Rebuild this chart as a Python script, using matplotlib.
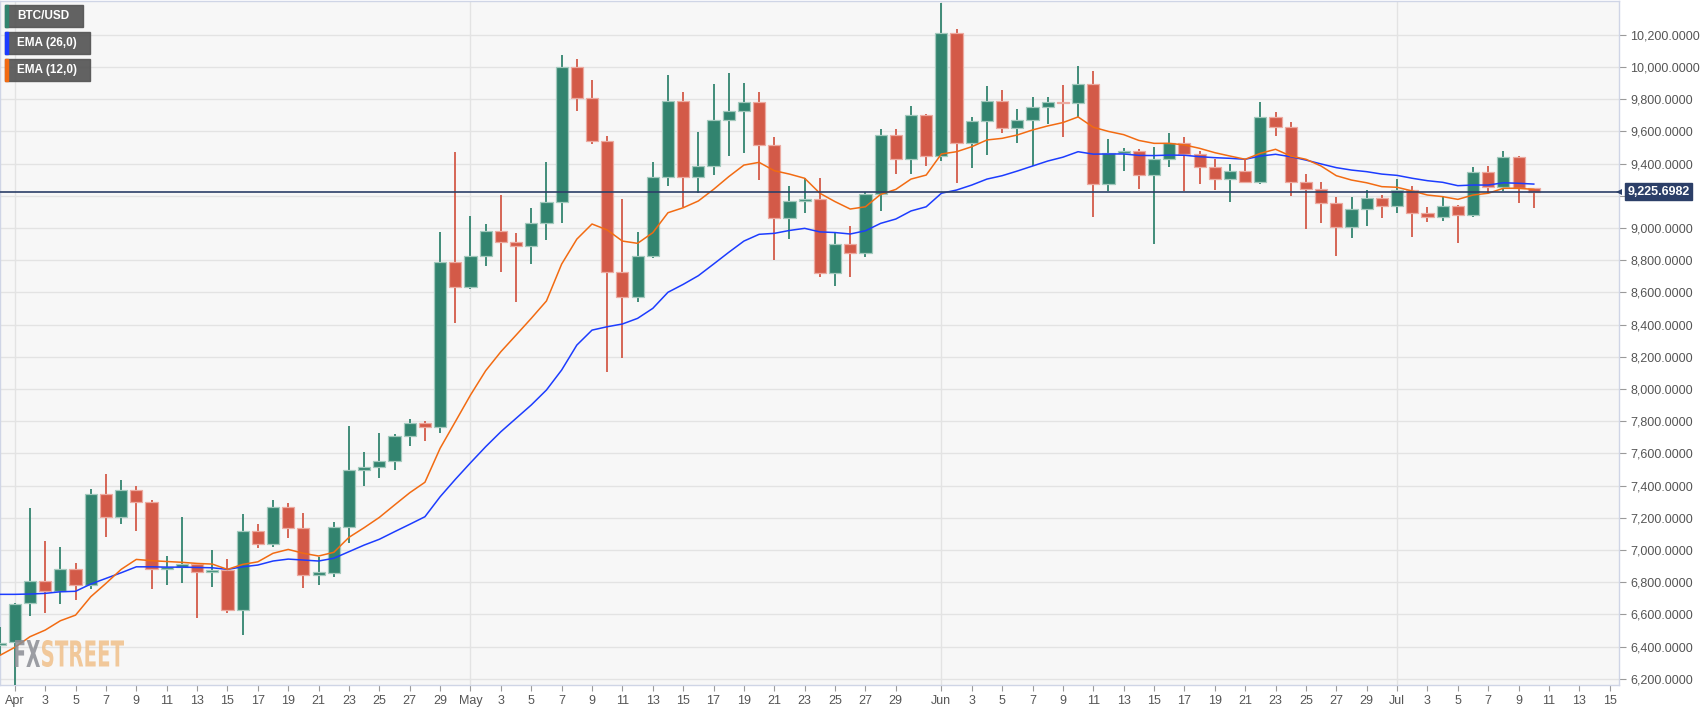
import matplotlib
matplotlib.use("Agg")
import matplotlib.pyplot as plt
import numpy as np
import pandas as pd
from matplotlib.patches import Rectangle, PathPatch
from matplotlib.textpath import TextPath
from matplotlib.font_manager import FontProperties
from matplotlib.transforms import Affine2D, blended_transform_factory

# daily BTC/USD candles, 2020-03-31 .. 2020-07-10
first_day = "2020-03-31"
opens = [6410, 6431, 6669, 6808, 6747, 6880, 6783, 7348, 7207, 7373, 7300, 6880, 6896, 6911, 6865, 6878,
         6627, 7118, 7037, 7265, 7135, 6845, 6860, 7141, 7497, 7514, 7553, 7708, 7791, 7766, 8791,
         8632, 8828, 8983, 8913, 8888, 9029, 9160, 10002, 9806, 9542, 8729, 8573, 8826, 9319, 9791,
         9315, 9385, 9671, 9727, 9783, 9516, 9060, 9170, 9180, 8719, 8901, 8847, 9211, 9578, 9427, 9702,
         9449, 10209, 9526, 9666, 9791, 9619, 9671, 9750, 9781, 9775, 9894, 9271, 9464, 9478, 9329,
         9429, 9526, 9458, 9377, 9304, 9356, 9288, 9688, 9625, 9288, 9242, 9157, 9008, 9116, 9188,
         9137, 9236, 9091, 9066, 9139, 9081, 9346, 9257, 9439, 9247]
highs = [6520, 6670, 7260, 7056, 7017, 6917, 7377, 7470, 7435, 7395, 7310, 6963, 7203, 6920, 7000, 6942,
         7224, 7160, 7311, 7290, 7228, 6959, 7172, 7770, 7611, 7725, 7718, 7812, 7800, 8977, 9474,
         9075, 9023, 9205, 8971, 9122, 9412, 10075, 10048, 9919, 9570, 9178, 8977, 9412, 9950, 9843,
         9598, 9894, 9961, 9899, 9843, 9567, 9263, 9313, 9309, 8977, 9014, 9222, 9613, 9613, 9758, 9710,
         10400, 10234, 9691, 9884, 9857, 9737, 9816, 9812, 9888, 10008, 9977, 9551, 9495, 9490, 9501,
         9588, 9563, 9480, 9427, 9396, 9422, 9785, 9722, 9660, 9335, 9288, 9191, 9191, 9236, 9205,
         9303, 9263, 9129, 9199, 9145, 9377, 9385, 9478, 9447, 9250]
lows = [6350, 6150, 6590, 6611, 6665, 6690, 6760, 7079, 7160, 7118, 6756, 6783, 6797, 6576, 6772, 6611,
        6472, 7010, 7020, 7073, 6762, 6783, 6834, 7042, 7398, 7445, 7497, 7646, 7677, 7725, 8412,
        8620, 8766, 8729, 8539, 8775, 8925, 9033, 9729, 9520, 8108, 8191, 8539, 8812, 9263, 9132,
        9215, 9329, 9447, 9464, 9298, 8801, 8930, 9091, 8694, 8640, 8694, 8818, 9108, 9335, 9335, 9385,
        9418, 9281, 9371, 9453, 9592, 9530, 9387, 9646, 9567, 9691, 9070, 9232, 9354, 9240, 8899,
        9381, 9232, 9271, 9236, 9160, 9278, 9271, 9573, 9199, 8992, 9029, 8826, 8936, 9014, 9060,
        9091, 8942, 9039, 9045, 8909, 9066, 9216, 9232, 9157, 9122]
closes = [6424, 6665, 6808, 6747, 6880, 6783, 7348, 7207, 7373, 7300, 6880, 6895, 6911, 6865, 6878, 6627,
          7118, 7037, 7265, 7135, 6845, 6862, 7141, 7497, 7514, 7553, 7708, 7791, 7766, 8791, 8632,
          8828, 8983, 8913, 8888, 9029, 9160, 10002, 9806, 9542, 8729, 8573, 8826, 9319, 9791, 9315,
          9385, 9671, 9727, 9783, 9516, 9060, 9170, 9180, 8719, 8901, 8847, 9211, 9578, 9427, 9702, 9449,
          10209, 9526, 9666, 9791, 9619, 9671, 9750, 9781, 9775, 9894, 9271, 9464, 9478, 9329, 9429,
          9526, 9458, 9377, 9304, 9356, 9288, 9688, 9625, 9288, 9242, 9157, 9008, 9116, 9188, 9137,
          9236, 9095, 9066, 9139, 9081, 9346, 9257, 9439, 9247, 9226]
ema26 = [6725, 6725, 6727, 6731, 6741, 6744, 6789, 6824, 6859, 6896, 6896, 6894, 6894, 6892, 6890, 6880,
         6896, 6907, 6932, 6944, 6938, 6932, 6949, 6990, 7031, 7067, 7114, 7160, 7207, 7331, 7439,
         7542, 7642, 7735, 7818, 7901, 7994, 8118, 8273, 8366, 8387, 8404, 8439, 8501, 8601, 8650,
         8704, 8776, 8849, 8919, 8961, 8967, 8985, 8998, 8976, 8972, 8963, 8983, 9029, 9056, 9106, 9132,
         9216, 9236, 9267, 9304, 9325, 9354, 9385, 9416, 9440, 9474, 9459, 9460, 9460, 9451, 9450,
         9453, 9452, 9443, 9437, 9433, 9427, 9447, 9458, 9443, 9422, 9398, 9375, 9360, 9350, 9335,
         9327, 9309, 9294, 9284, 9263, 9267, 9267, 9281, 9278, 9273]
ema12 = [6345, 6396, 6462, 6503, 6561, 6596, 6710, 6793, 6880, 6942, 6934, 6929, 6924, 6917, 6913, 6880,
         6911, 6927, 6980, 7004, 6980, 6963, 6986, 7079, 7139, 7203, 7280, 7356, 7421, 7632, 7797,
         7963, 8114, 8232, 8335, 8439, 8547, 8776, 8931, 9025, 8988, 8919, 8905, 8971, 9095, 9126,
         9168, 9240, 9319, 9391, 9408, 9356, 9335, 9309, 9216, 9164, 9118, 9132, 9209, 9240, 9304, 9329,
         9460, 9474, 9505, 9547, 9557, 9578, 9609, 9634, 9655, 9690, 9626, 9600, 9580, 9544, 9526,
         9526, 9516, 9495, 9468, 9447, 9427, 9464, 9489, 9447, 9427, 9385, 9325, 9298, 9281, 9257,
         9253, 9230, 9205, 9195, 9178, 9205, 9216, 9247, 9247, 9240]
last_price = 9225.6982
price_ticks = list(range(6200, 10201, 200))

GREEN, RED = "#32846f", "#d35a48"
GREEN_EDGE, RED_EDGE = "#a3c9bd", "#ecaaa0"
BLUE, ORANGE = "#1c3cff", "#f26b12"
NAVY = "#2c3f68"
GRID = "#e3e3e3"
BORDER = "#cfd5e6"

W, H = 1707, 712
fig = plt.figure(figsize=(W / 100, H / 100), dpi=100)
fig.patch.set_facecolor("white")
ax = fig.add_axes([0.0, 1 - 685 / H, 1619 / W, 684 / H])
ax.set_facecolor("#f7f7f7")

dates = pd.date_range(first_day, periods=len(opens))
origin = pd.Timestamp("2020-04-01")
x = np.array((dates - origin).days)
o, h, l, c = map(np.array, (opens, highs, lows, closes))
up = c >= o
colors = np.where(up, GREEN, RED)
edges = np.where(up, GREEN_EDGE, RED_EDGE)

ax.vlines(x, l, h, colors=colors, lw=1.3, zorder=3)
ax.bar(x, np.maximum(np.abs(c - o), 10), 0.8, bottom=np.minimum(o, c),
       color=colors, edgecolor=edges, lw=0.9, zorder=4)

ax.plot(x, ema26, color=BLUE, lw=1.1, zorder=5)
ax.plot(x, ema12, color=ORANGE, lw=1.1, zorder=5)

ax.set_xlim(-0.974, 105.61)
ax.set_ylim(6162, 10410)

# grid; the 9,200 label sits under the last-price tag, so leave it blank
ax.set_yticks(price_ticks)
ax.set_yticklabels(["" if v == 9200 else f"{v:,.4f}" for v in price_ticks])
ax.yaxis.grid(True, color=GRID, lw=1, zorder=0)
ax.set_axisbelow(True)
for m in pd.date_range(origin, "2020-07-15", freq="MS"):
    ax.axvline((m - origin).days, color=GRID, lw=1, zorder=0)

# x ticks: month names on the 1st, odd days otherwise
tick_days = [d for d in pd.date_range(origin, "2020-07-15") if d.day == 1 or (d.day % 2 == 1 and d.day < 31)]
ax.set_xticks([(d - origin).days for d in tick_days])
ax.set_xticklabels([d.strftime("%b") if d.day == 1 else str(d.day) for d in tick_days])

ax.yaxis.tick_right()
ax.tick_params(axis="y", direction="out", length=5, color="#9a9a9a", labelcolor="#555555",
               labelsize=9, pad=3)
ax.tick_params(axis="x", direction="out", length=4, color="#9a9a9a", labelcolor="#555555",
               labelsize=9, pad=3)
for lab in ax.get_xticklabels() + ax.get_yticklabels():
    lab.set_family("Liberation Sans")
for s in ax.spines.values():
    s.set_color(BORDER)
    s.set_linewidth(1)

# last price line and tag
ax.axhline(last_price, color=NAVY, lw=1.2, zorder=6)
tr = blended_transform_factory(ax.transAxes, ax.transData)
ax.plot([1.0], [last_price], marker="<", ms=5, color=NAVY, transform=tr, clip_on=False,
        zorder=7, markeredgewidth=0)
ax.annotate(f"{last_price:,.4f}", xy=(1.0, last_price), xycoords=tr, xytext=(6, 0),
            textcoords="offset points", va="center", ha="left", color="white",
            fontsize=9, fontweight="bold", family="Liberation Sans", annotation_clip=False,
            bbox=dict(boxstyle="square,pad=0.18", fc=NAVY, ec=NAVY))

# legend tags (top left)
def px_rect(x0, y0, w, hgt, **kw):
    fig.add_artist(Rectangle((x0 / W, 1 - (y0 + hgt) / H), w / W, hgt / H,
                             transform=fig.transFigure, **kw))

for i, (name, col, wdt) in enumerate([("BTC/USD", GREEN, 78), ("EMA (26,0)", BLUE, 85),
                                       ("EMA (12,0)", ORANGE, 85)]):
    y0 = 5 + i * 27
    px_rect(5, y0, wdt, 22, color="#555555", alpha=0.92, zorder=10)
    px_rect(5, y0, 3, 22, color=col, zorder=11)
    fig.text(17 / W, 1 - (y0 + 11) / H, name, color="white", fontsize=8.5, fontweight="bold",
             family="Liberation Sans", va="center", ha="left", zorder=12)

# FXSTREET watermark, squeezed into its box
def logo_part(text, color, x0, x1, y0, y1):
    fp = FontProperties(family=["Liberation Sans Narrow", "DejaVu Sans"], weight="bold")
    p = TextPath((0, 0), text, size=100, prop=fp)
    ext = p.get_extents()
    sx = (x1 - x0) / ext.width
    sy = (y1 - y0) / ext.height
    t = Affine2D().translate(-ext.x0, -ext.y0).scale(sx, sy).translate(x0, H - y1)
    fig.add_artist(PathPatch(p, transform=t, fc=color, ec="none", alpha=0.85, zorder=2))

logo_part("FX", "#8b8e94", 15, 40, 640, 667)
logo_part("STREET", "#f0c08a", 42, 124, 640, 667)

fig.savefig("out.png", dpi=100, facecolor=fig.get_facecolor())
